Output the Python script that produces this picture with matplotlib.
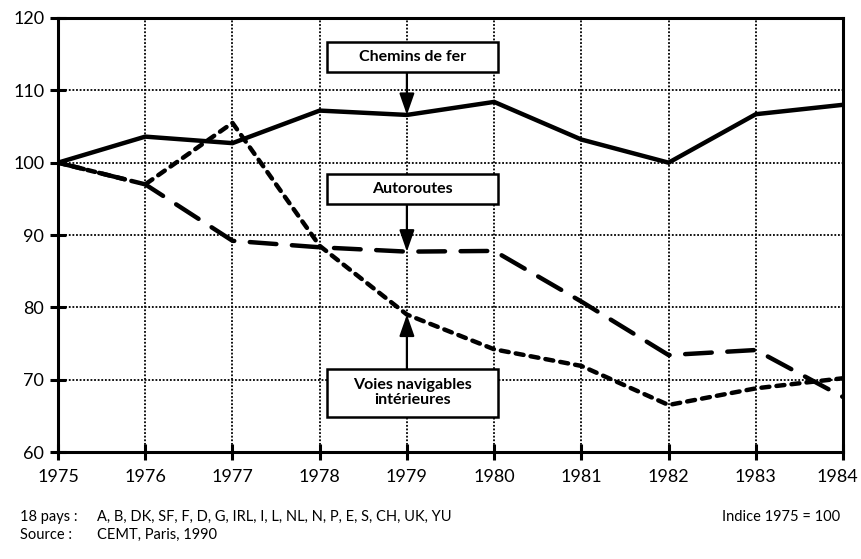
import matplotlib
matplotlib.use("Agg")
import matplotlib.pyplot as plt
import matplotlib.transforms as mtransforms
from matplotlib.patches import Rectangle

plt.rcParams.update({
    "font.family": ["Lato", "DejaVu Sans"],
    "font.size": 13,
})

years = [1975, 1976, 1977, 1978, 1979, 1980, 1981, 1982, 1983, 1984]
chemins_de_fer = [100, 103.6, 102.7, 107.2, 106.6, 108.4, 103.2, 100.0, 106.7, 108.0]
autoroutes = [100, 97.0, 89.2, 88.3, 87.7, 87.8, 80.8, 73.4, 74.1, 67.6]
voies_navigables = [100, 97.0, 105.5, 88.5, 79.0, 74.2, 71.9, 66.5, 68.8, 70.2]

y_ticks = [60, 70, 80, 90, 100, 110, 120]

fig = plt.figure(figsize=(8.61, 5.59), dpi=100)
ax = fig.add_axes([0.0674, 0.1914, 0.9117, 0.7764])

ax.plot(years, chemins_de_fer, color="black", linewidth=3.2,
        solid_joinstyle="miter", zorder=4)
ax.plot(years, autoroutes, color="black", linewidth=3.2,
        dashes=(6, 3.5), dash_capstyle="round", zorder=4)
ax.plot(years, voies_navigables, color="black", linewidth=3.2,
        dashes=(1.8, 1.6), dash_capstyle="round", zorder=4)

ax.set_xlim(1975, 1984)
ax.set_ylim(60, 120)
ax.set_xticks(years)
ax.set_yticks(y_ticks)
ax.grid(True, color="black", linestyle=(0, (1, 1.0)), linewidth=1.3, zorder=1)
for s in ax.spines.values():
    s.set_linewidth(2.2)
ax.tick_params(direction="inout", length=12, width=2.2, labelsize=13, pad=4)
ax.tick_params(axis="x", pad=6)

# nudge the last year label so it stays inside the figure
last = ax.get_xticklabels()[-1]
last.set_transform(last.get_transform() +
                   mtransforms.ScaledTranslation(-6 / 100, 0, fig.dpi_scale_trans))

# labelled boxes with arrows
arrow = dict(arrowstyle="-|>,head_length=1.0,head_width=0.35",
             color="black", lw=1.6, shrinkA=0, shrinkB=0)


def label_box(x0, x1, y0, y1, text):
    ax.add_patch(Rectangle((x0, y0), x1 - x0, y1 - y0, fc="white",
                           ec="black", lw=1.8, zorder=6))
    ax.text((x0 + x1) / 2, (y0 + y1) / 2, text, ha="center", va="center",
            fontsize=11.5, fontweight="bold", linespacing=1.05, zorder=7)


ax.annotate("", xy=(1979, chemins_de_fer[4]), xytext=(1979, 112.6),
            arrowprops=arrow, zorder=5)
label_box(1978.08, 1980.04, 112.6, 116.7, "Chemins de fer")

ax.annotate("", xy=(1979, autoroutes[4]), xytext=(1979, 94.3),
            arrowprops=arrow, zorder=5)
label_box(1978.08, 1980.04, 94.3, 98.5, "Autoroutes")

ax.annotate("", xy=(1979, voies_navigables[4]), xytext=(1979, 71.5),
            arrowprops=arrow, zorder=5)
label_box(1978.08, 1980.04, 64.9, 71.5, "Voies navigables\nintérieures")

# footer
fs = 10.5
fig.text(20 / 861, 1 - 517 / 559, "18 pays :", fontsize=fs, va="center")
fig.text(97 / 861, 1 - 517 / 559,
         "A, B, DK, SF, F, D, G, IRL, I, L, NL, N, P, E, S, CH, UK, YU",
         fontsize=fs, va="center")
fig.text(20 / 861, 1 - 535 / 559, "Source :", fontsize=fs, va="center")
fig.text(97 / 861, 1 - 535 / 559, "CEMT, Paris, 1990", fontsize=fs,
         va="center")
fig.text(840 / 861, 1 - 517 / 559, "Indice 1975 = 100", fontsize=fs,
         va="center", ha="right")

fig.savefig("out.png", dpi=100)
